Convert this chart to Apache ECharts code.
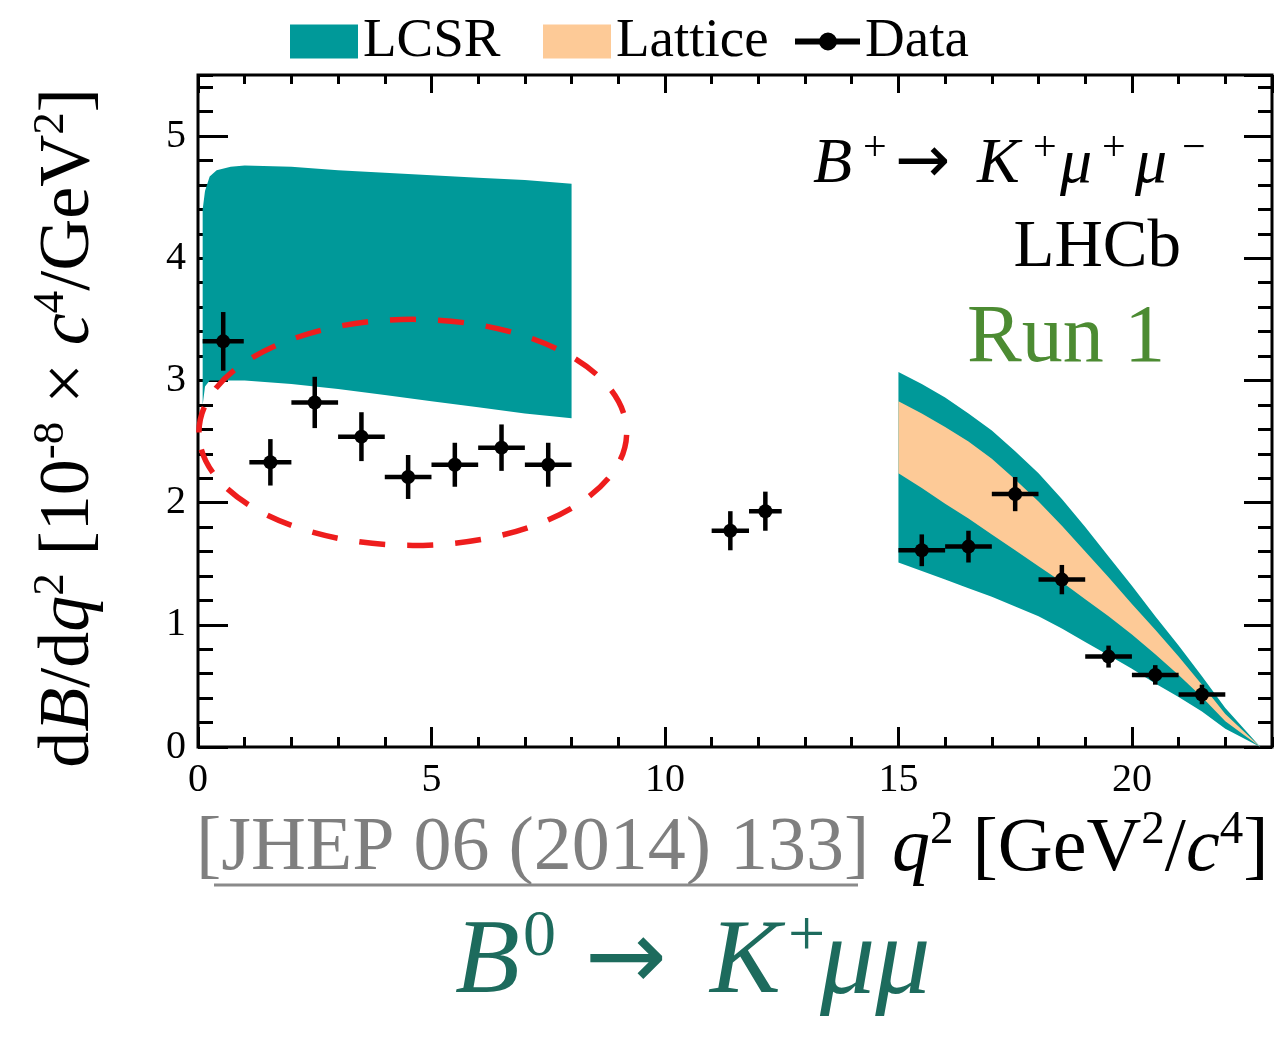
<!DOCTYPE html>
<html>
<head>
<meta charset="utf-8">
<script src="https://cdn.jsdelivr.net/npm/echarts@6/dist/echarts.min.js"></script>
<style>
  html, body { margin: 0; padding: 0; background: #ffffff; }
  #chart { width: 1281px; height: 1037px; }
</style>
</head>
<body>
<div id="chart"></div>
<script>
// dB/dq^2 of B+ -> K+ mu+ mu- (units of 1e-8 c^4/GeV^2), LHCb Run 1
const binLow    = [0.1, 1.1, 2, 3, 4, 5, 6, 7, 11, 11.8, 15, 16, 17, 18, 19, 20, 21];
const binHigh   = [0.98, 2, 3, 4, 5, 6, 7, 8, 11.8, 12.5, 16, 17, 18, 19, 20, 21, 22];
const dataValue = [3.32, 2.33, 2.82, 2.54, 2.21, 2.31, 2.45, 2.31, 1.77, 1.93, 1.61, 1.64, 2.07, 1.37, 0.74, 0.59, 0.43];
const dataError = [0.24, 0.19, 0.21, 0.20, 0.18, 0.18, 0.19, 0.18, 0.16, 0.16, 0.13, 0.13, 0.14, 0.12, 0.09, 0.08, 0.08];

// LCSR prediction, low-q2 region
const lcsrLowQ2  = [0.1, 0.15, 0.25, 0.4, 0.7, 1, 2, 3, 4, 5, 6, 7, 8];
const lcsrLowMin = [2.80, 2.95, 3.00, 3.00, 3.00, 3.00, 2.97, 2.93, 2.88, 2.83, 2.78, 2.73, 2.69];
const lcsrLowMax = [4.40, 4.55, 4.67, 4.72, 4.75, 4.76, 4.75, 4.72, 4.70, 4.68, 4.66, 4.64, 4.61];

// LCSR and lattice predictions, high-q2 region
const highQ2      = [15, 15.5, 16, 16.5, 17, 17.5, 18, 18.5, 19, 19.5, 20, 20.5, 21, 21.5, 22, 22.75];
const lcsrHighMin = [1.51, 1.44, 1.37, 1.30, 1.23, 1.15, 1.07, 0.97, 0.86, 0.75, 0.64, 0.52, 0.41, 0.29, 0.15, 0];
const lcsrHighMax = [3.07, 2.97, 2.86, 2.73, 2.59, 2.42, 2.24, 2.03, 1.80, 1.56, 1.32, 1.07, 0.83, 0.58, 0.32, 0];
const latticeMin  = [2.24, 2.12, 1.99, 1.87, 1.74, 1.61, 1.48, 1.35, 1.21, 1.07, 0.92, 0.76, 0.59, 0.41, 0.21, 0];
const latticeMax  = [2.83, 2.73, 2.62, 2.50, 2.36, 2.19, 2.01, 1.81, 1.60, 1.39, 1.17, 0.96, 0.74, 0.51, 0.27, 0];

// axis ranges and tick steps
const xRange = [0, 23];
const yRange = [0, 5.5];
const xMajor = 5, xMinor = 1;
const yMajor = 1, yMinor = 0.2;

// highlighted low-q2 region (centre and half-axes in data units)
const ringCentre = [4.6, 2.575];
const ringRadius = [4.58, 0.925];

const SERIF = 'Liberation Serif';
const SANS = 'DejaVu Sans';
const TEAL = '#009999';
const PEACH = '#FDCA97';

const chart = echarts.init(document.getElementById('chart'), null, { renderer: 'canvas' });

function band(name, xs, lo, hi, color, z) {
  return {
    type: 'custom', name: name, coordinateSystem: 'cartesian2d', silent: true, z: z,
    itemStyle: { color: color },
    data: xs.map((x, i) => [x, lo[i], hi[i]]),
    encode: { x: 0, y: [1, 2] },
    renderItem: function (params, api) {
      if (params.dataIndex !== 0) return null;
      const pts = [];
      for (let i = 0; i < xs.length; i++) pts.push(api.coord([xs[i], hi[i]]));
      for (let i = xs.length - 1; i >= 0; i--) pts.push(api.coord([xs[i], lo[i]]));
      return { type: 'polygon', shape: { points: pts }, style: { fill: color } };
    }
  };
}

function tickAxis(dim, pos, step, len, range, labels) {
  const ax = {
    type: 'value', position: pos, min: range[0], max: range[1], interval: step,
    axisLine: { show: false, onZero: false },
    axisTick: { show: true, inside: true, length: len, lineStyle: { color: '#000', width: 3 } },
    axisLabel: { show: false },
    splitLine: { show: false }
  };
  if (labels) {
    ax.axisLabel = {
      show: true, showMaxLabel: false, color: '#000',
      fontFamily: SERIF, fontSize: 40,
      margin: dim === 'x' ? 13 : 12
    };
  }
  return ax;
}

function tok(size, opts) {
  const color = (opts && opts.fill) || '#000';
  return Object.assign({ fontFamily: SERIF, fontSize: size, fill: color, color: color }, opts || {});
}

function rich(size, color, lh) {
  return {
    n: tok(size, { fill: color, lineHeight: lh }),
    i: tok(size, { fill: color, fontStyle: 'italic', lineHeight: lh }),
    sup: tok(Math.round(size * 0.62), { fill: color, verticalAlign: 'top' }),
    arr: tok(Math.round(size * 0.95), { fill: color, fontFamily: SANS, lineHeight: lh })
  };
}

function label(x, y, text, size, color, align, richStyles, rotation) {
  return {
    type: 'text', x: x, y: y, rotation: rotation || 0, silent: true, z: 20,
    style: {
      text: text, fontFamily: SERIF, fontSize: size, fill: color,
      align: align, verticalAlign: 'middle',
      rich: richStyles || rich(size, color, Math.round(size * 1.12))
    }
  };
}

// decay label with hand-set glyph advances
const decayRich = {
  b:  tok(64, { fontStyle: 'italic', width: 50, lineHeight: 74 }),
  k:  tok(64, { fontStyle: 'italic', width: 56, lineHeight: 74 }),
  m1: tok(64, { fontStyle: 'italic', width: 42, lineHeight: 74 }),
  m2: tok(64, { fontStyle: 'italic', width: 47, lineHeight: 74 }),
  s1: tok(42, { verticalAlign: 'top', width: 32 }),
  s2: tok(42, { verticalAlign: 'top', width: 27 }),
  s3: tok(42, { verticalAlign: 'top', width: 33 }),
  s4: tok(42, { verticalAlign: 'top', width: 23 }),
  arr: tok(66, { fontFamily: SANS, width: 82, lineHeight: 74 })
};

// channel caption with hand-set glyph advances
const CAP = '#1D6B5D';
const captionRich = {
  b:   tok(106, { fill: CAP, fontStyle: 'italic', width: 68, lineHeight: 118 }),
  s0:  tok(66,  { fill: CAP, verticalAlign: 'top', width: 62 }),
  arr: tok(98,  { fill: CAP, fontFamily: SANS, width: 125, lineHeight: 118 }),
  k:   tok(106, { fill: CAP, fontStyle: 'italic', width: 78, lineHeight: 118 }),
  sp:  tok(66,  { fill: CAP, verticalAlign: 'top', width: 32 }),
  mu:  tok(110, { fill: CAP, fontStyle: 'italic', lineHeight: 118 })
};

const option = {
  animation: false,
  backgroundColor: '#ffffff',
  grid: {
    left: 198, right: 9, top: 75, bottom: 290,
    show: true, borderColor: '#000', borderWidth: 3, backgroundColor: 'transparent'
  },
  xAxis: [
    tickAxis('x', 'bottom', xMajor, 20, xRange, true),
    tickAxis('x', 'bottom', xMinor, 10, xRange, false),
    tickAxis('x', 'top', xMajor, 18, xRange, false),
    tickAxis('x', 'top', xMinor, 9, xRange, false)
  ],
  yAxis: [
    tickAxis('y', 'left', yMajor, 30, yRange, true),
    tickAxis('y', 'left', yMinor, 15, yRange, false),
    tickAxis('y', 'right', yMajor, 28, yRange, false),
    tickAxis('y', 'right', yMinor, 14, yRange, false)
  ],
  legend: [
    {
      left: 290, top: 14, padding: 0, itemWidth: 68, itemHeight: 34, selectedMode: false,
      data: [{ name: 'LCSR', icon: 'rect' }],
      textStyle: { fontFamily: SERIF, fontSize: 55, color: '#000' }
    },
    {
      left: 543, top: 14, padding: 0, itemWidth: 68, itemHeight: 34, selectedMode: false,
      data: [{ name: 'Lattice', icon: 'rect' }],
      textStyle: { fontFamily: SERIF, fontSize: 55, color: '#000' }
    },
    {
      left: 795, top: 14, padding: 0, itemWidth: 65, itemHeight: 34, selectedMode: false,
      data: [{
        name: 'Data',
        icon: 'path://M0,0M65,34M0,14L65,14L65,20L0,20ZM24,17A9,9,0,1,1,42,17A9,9,0,1,1,24,17Z'
      }],
      textStyle: { fontFamily: SERIF, fontSize: 55, color: '#000' }
    }
  ],
  series: [
    band('LCSR', lcsrLowQ2, lcsrLowMin, lcsrLowMax, TEAL, 2),
    band('LCSR', highQ2, lcsrHighMin, lcsrHighMax, TEAL, 2),
    band('Lattice', highQ2, latticeMin, latticeMax, PEACH, 3),
    {
      type: 'custom', name: 'ring', coordinateSystem: 'cartesian2d', silent: true, z: 4,
      data: [[ringCentre[0], ringCentre[1], ringRadius[0], ringRadius[1]]],
      encode: { x: 0, y: 1 },
      renderItem: function (params, api) {
        const c = api.coord([api.value(0), api.value(1)]);
        const s = api.size([api.value(2), api.value(3)]);
        return {
          type: 'ellipse',
          shape: { cx: c[0], cy: c[1], rx: s[0], ry: s[1] },
          style: { fill: 'none', stroke: '#EE1D1D', lineWidth: 5.5, lineDash: [26, 22] }
        };
      }
    },
    {
      type: 'custom', name: 'Data', coordinateSystem: 'cartesian2d', z: 6,
      itemStyle: { color: '#000' },
      data: dataValue.map((v, i) => [(binLow[i] + binHigh[i]) / 2, v, binLow[i], binHigh[i], dataError[i]]),
      encode: { x: 0, y: 1 },
      renderItem: function (params, api) {
        const x = api.value(0), y = api.value(1);
        const c = api.coord([x, y]);
        const l = api.coord([api.value(2), y]);
        const r = api.coord([api.value(3), y]);
        const t = api.coord([x, y + api.value(4)]);
        const b = api.coord([x, y - api.value(4)]);
        return {
          type: 'group',
          children: [
            { type: 'line', shape: { x1: l[0], y1: l[1], x2: r[0], y2: r[1] }, style: { stroke: '#000', lineWidth: 4.5 } },
            { type: 'line', shape: { x1: t[0], y1: t[1], x2: b[0], y2: b[1] }, style: { stroke: '#000', lineWidth: 4.5 } },
            { type: 'circle', shape: { cx: c[0], cy: c[1], r: 7 }, style: { fill: '#000' } }
          ]
        };
      }
    }
  ],
  graphic: [
    // decay label, experiment and run
    label(813, 165, '{b|B}{s1|+}{arr|→}{k|K}{s2|+}{m1|μ}{s3|+}{m2|μ}{s4|−}', 64, '#000', 'left', decayRich),
    label(1181, 248, 'LHCb', 67, '#000', 'right'),
    label(967, 339, 'Run 1', 82, '#4C8B32', 'left'),
    // y axis title
    label(69, 428,
      'd{i|B}/d{i|q}{sup|2} [10{sup|-8} × {i|c}{sup|4}/GeV{sup|2}]', 72, '#000', 'center', null, Math.PI / 2),
    // x axis title and reference
    label(892, 850, '{i|q}{sup|2} [GeV{sup|2}/{i|c}{sup|4}]', 76, '#000', 'left'),
    label(196, 849, '[JHEP 06 (2014) 133]', 76, '#7F7F7F', 'left'),
    {
      type: 'line', silent: true, z: 20,
      shape: { x1: 214, y1: 885, x2: 858, y2: 885 },
      style: { stroke: '#8A8A8A', lineWidth: 3 }
    },
    // channel caption
    label(455, 964, '{b|B}{s0|0}{arr|→}{k|K}{sp|+}{mu|μμ}', 106, CAP, 'left', captionRich)
  ]
};

chart.setOption(option);
</script>
</body>
</html>
